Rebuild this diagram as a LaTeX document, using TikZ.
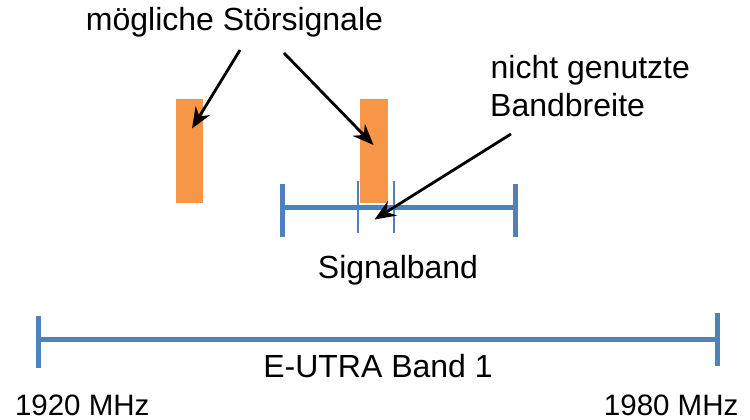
\documentclass[tikz,border=0pt]{standalone}
\usepackage{fontspec}
\setmainfont{Liberation Sans}
\usetikzlibrary{arrows.meta}
\definecolor{bandblue}{HTML}{4F81BD}
\definecolor{sigorange}{HTML}{F79646}
\begin{document}
\begin{tikzpicture}[x=1pt,y=-1pt,
  lbl/.style={inner sep=0pt, font=\fontsize{32}{38}\selectfont},
  freq/.style={inner sep=0pt, text depth=0pt, font=\fontsize{29.5}{34}\selectfont},
  thickbar/.style={draw=bandblue, line width=5pt},
  thinbar/.style={draw=bandblue, line width=2.2pt},
  sig/.style={fill=sigorange, draw=none, inner sep=0pt, minimum height=104pt},
  pointer/.style={draw=black, line width=2.8pt, -{Stealth[length=21pt,width=17pt,inset=7pt]}}]
\useasboundingbox (0,0) rectangle (750,420);

% interference signals
\node[sig, minimum width=27.5pt] (s1) at (189.5,151) {};
\node[sig, minimum width=28pt] (s2) at (374.3,151) {};

% signal band
\coordinate (sbL) at (282.5,207);
\coordinate (sbR) at (515.5,207);
\coordinate (gapL) at (357.7,207);
\coordinate (gapR) at (394.3,207);
\draw[thickbar] (sbL) -- (sbR);
\draw[thickbar] (sbL) ++(0,-23) -- ++(0,52.5);
\draw[thickbar] (sbR) ++(0,-23) -- ++(0,52.5);
\draw[thinbar] (gapL) ++(0,-26.3) -- ++(0,52.3);
\draw[thinbar] (gapR) ++(0,-26.3) -- ++(0,52.3);

% E-UTRA band
\coordinate (ebL) at (38.5,339.5);
\coordinate (ebR) at (717,339.5);
\draw[thickbar] (ebL) -- (ebR);
\draw[thickbar] (ebL) ++(0,-23.5) -- ++(0,52);
\draw[thickbar] (ebR) ++(0,-26.5) -- ++(0,53);

% labels
\node[lbl, anchor=base] (title) at (234.5,31) {mögliche Störsignale};
\node[lbl, anchor=base west] (nu1) at (490.5,78) {nicht genutzte};
\node[lbl, anchor=base west] (nu2) at (490,117) {Bandbreite};
\node[lbl, anchor=base] (sb) at (398,278) {Signalband};
\node[lbl, anchor=base] (eu) at (378,377) {E-UTRA Band 1};
\node[freq, anchor=base west] (f1) at (14.8,415.5) {1920 MHz};
\node[freq, anchor=base east] (f2) at (738.6,415.5) {1980 MHz};

% arrows
\coordinate (a1s) at (240,50);
\coordinate (a1t) at (192,128.5);
\coordinate (a2s) at (284,53);
\coordinate (a2t) at (373.5,145);
\coordinate (a3s) at (511,134);
\coordinate (a3t) at (374.5,219.5);
\draw[pointer] (a1s) -- (a1t);
\draw[pointer] (a2s) -- (a2t);
\draw[pointer] (a3s) -- (a3t);
\end{tikzpicture}
\end{document}
